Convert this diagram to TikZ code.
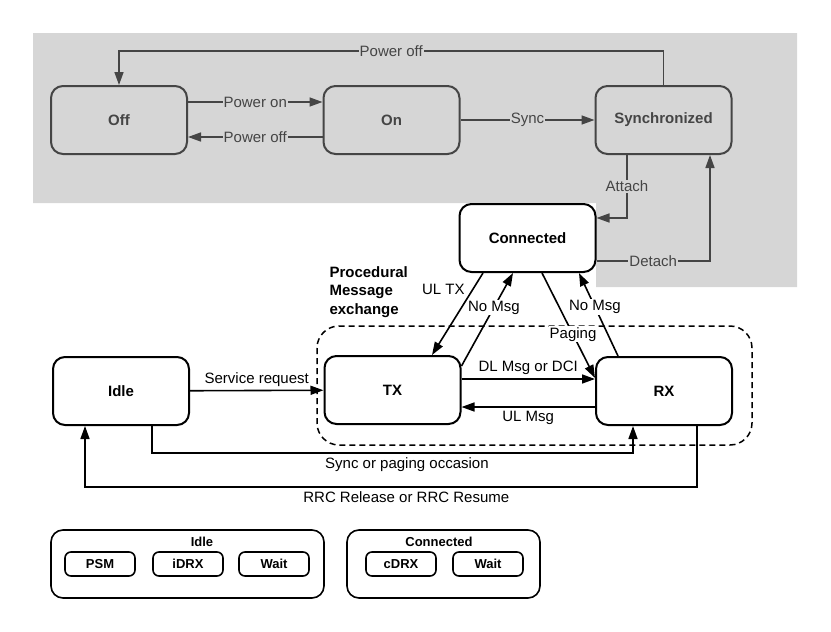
\documentclass[tikz,border=0pt]{standalone}
\usepackage{fontspec}
\setmainfont{Liberation Sans}
\usetikzlibrary{arrows.meta,positioning}
\definecolor{topgray}{HTML}{D6D6D6}
\definecolor{darkline}{HTML}{454545}

\begin{document}
\begin{tikzpicture}[x=1pt,y=-1pt,
  every node/.style={font=\fontsize{15}{18}\selectfont},
  state/.style={draw,line width=2pt,rounded corners=12pt,minimum width=136pt,minimum height=68pt,font=\fontsize{15}{18}\selectfont\bfseries},
  topstate/.style={state,draw=darkline,fill=topgray,text=darkline},
  lowstate/.style={state,fill=white},
  arr/.style={-{Triangle[length=13pt,width=9pt]},line width=1.6pt},
  toparr/.style={arr,draw=darkline},
  toplbl/.style={fill=topgray,text=darkline,inner sep=1pt},
  onlbl/.style={fill=white,inner sep=1pt},
  group/.style={draw,line width=1.6pt,rounded corners=12pt},
  substate/.style={draw,line width=1.6pt,rounded corners=6pt,minimum width=70pt,minimum height=24pt,font=\fontsize{13}{15}\selectfont\bfseries}]
  \useasboundingbox (0,0) rectangle (831,632);
  % shaded power/sync area
  \fill[topgray] (33,33) -- (797,33) -- (797,287) -- (596,287) -- (596,203) -- (33,203) -- cycle;
  % procedural message exchange frame
  \draw[dashed,dash pattern=on 6pt off 4pt,line width=1.5pt,rounded corners=22pt] (317,326) rectangle (752,445);
  \node[anchor=west,align=left,font=\fontsize{15}{18.5}\selectfont\bfseries] (proc) at (326,292) {Procedural\\Message\\exchange};

  % states
  \node[topstate] (off) at (119,120) {Off};
  \node[topstate] (on) at (391.5,120) {On};
  \node[topstate] (sync) at (663.5,120) {Synchronized};
  \node[lowstate] (conn) at (527.5,238) {Connected};
  \node[lowstate] (idle) at (121,391) {Idle};
  \node[lowstate] (tx) at (392.5,390) {TX};
  \node[lowstate] (rx) at (664,391) {RX};

  % top transitions
  \draw[toparr] (sync.north) -- (sync.north |- 0,51) -- node[toplbl]{Power off} (off.north |- 0,51) -- (off.north);
  \draw[toparr] (off.east |- 0,102) -- node[toplbl]{Power on} (on.west |- 0,102);
  \draw[toparr] (on.west |- 0,137) -- node[toplbl]{Power off} (off.east |- 0,137);
  \draw[toparr] (on) -- node[toplbl]{Sync} (sync);
  \draw[toparr] (627,0 |- sync.south) -- node[toplbl]{Attach} (627,218) -- (conn.east |- 0,218);
  \draw[toparr] (conn.east |- 0,261) -- node[toplbl]{Detach} (710,261) -- (710,0 |- sync.south);

  % connected <-> tx/rx
  \draw[arr] (483,0 |- conn.south) -- node[pos=0.2,left,xshift=-4pt]{UL TX} (432,0 |- tx.north);
  \draw[arr] (tx.east |- 0,366) -- node[pos=0.63,onlbl]{No Msg} (513,0 |- conn.south);
  \draw[arr] (542,0 |- conn.south) -- node[pos=0.585,onlbl]{Paging} (rx.west |- 0,378);
  \draw[arr] (618,0 |- rx.north) -- node[pos=0.59,onlbl]{No Msg} (579,0 |- conn.south);
  \draw[arr] (tx.east |- 0,379) -- node[above]{DL Msg or DCI} (rx.west |- 0,379);
  \draw[arr] (rx.west |- 0,407) -- node[below]{UL Msg} (tx.east |- 0,407);

  % idle transitions
  \draw[arr] (idle) -- node[above]{Service request} (tx);
  \draw[arr] (152,0 |- idle.south) -- (152,453) -- node[pos=0.53,below]{Sync or paging occasion} (633,453) -- (633,0 |- rx.south);
  \draw[arr] (697,0 |- rx.south) -- (697,487) -- node[pos=0.475,below]{RRC Release or RRC Resume} (85,487) -- (85,0 |- idle.south);

  % sub-states
  \node[group,minimum width=273pt,minimum height=68pt] (idlegrp) at (187.5,564) {};
  \node[group,minimum width=193pt,minimum height=68pt] (conngrp) at (443.5,564) {};
  \node[font=\fontsize{13}{15}\selectfont\bfseries] (idlettl) at (202,542) {Idle};
  \node[font=\fontsize{13}{15}\selectfont\bfseries] (connttl) at (439,542) {Connected};
  \foreach \nm/\txt/\xx in {psm/PSM/100,idrx/iDRX/188,iwait/Wait/274,cdrx/cDRX/401,cwait/Wait/488}
    \node[substate] (\nm) at (\xx,564) {\txt};
\end{tikzpicture}
\end{document}
